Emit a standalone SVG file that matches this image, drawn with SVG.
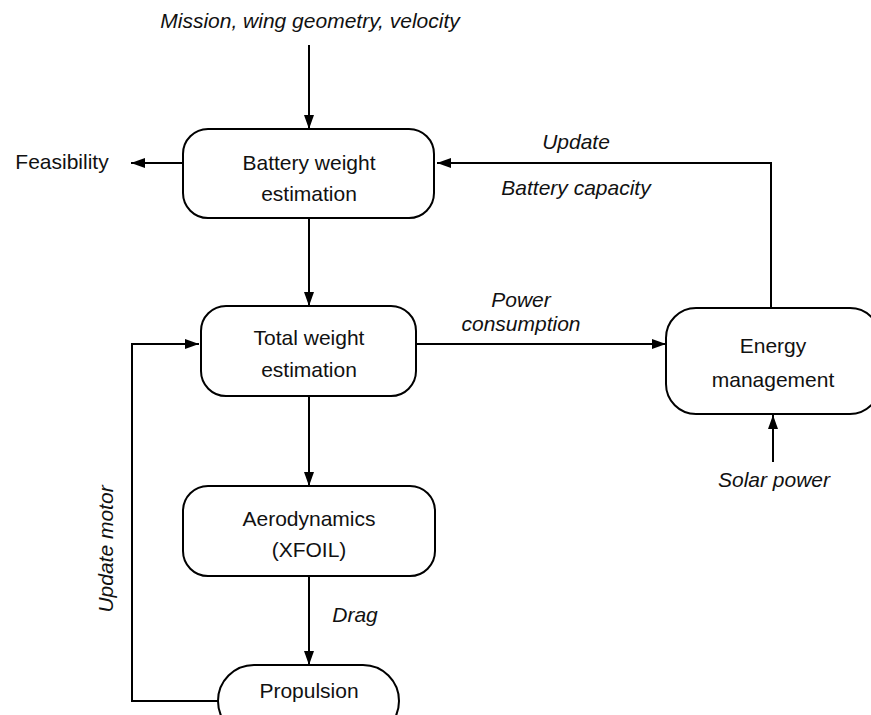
<svg xmlns="http://www.w3.org/2000/svg" width="871" height="715" viewBox="0 0 871 715">
<style>
.box{fill:#fff;stroke:#000;stroke-width:2}
.ln{fill:none;stroke:#000;stroke-width:2}
.t{font-family:"Liberation Sans",Arial,sans-serif;font-size:21px;fill:#111;text-anchor:middle}
.i{font-style:italic}
</style>
<defs>
<marker id="ah" viewBox="0 0 14 10" refX="14" refY="5" markerWidth="14" markerHeight="10" markerUnits="userSpaceOnUse" orient="auto">
<path d="M0,0 L14,5 L0,10 z" fill="#000"/>
</marker>
</defs>
<rect width="871" height="715" fill="#fff"/>
<g id="connectors">
<path class="ln" d="M309,45 L309,129" marker-end="url(#ah)"/>
<path class="ln" d="M183,163 L131,163" marker-end="url(#ah)"/>
<path class="ln" d="M771,308 L771,163 L437,163" marker-end="url(#ah)"/>
<path class="ln" d="M309,218 L309,306" marker-end="url(#ah)"/>
<path class="ln" d="M416,344 L666,344" marker-end="url(#ah)"/>
<path class="ln" d="M309,396 L309,486" marker-end="url(#ah)"/>
<path class="ln" d="M309,576 L309,665" marker-end="url(#ah)"/>
<path class="ln" d="M219,701 L132,701 L132,344 L199,344" marker-end="url(#ah)"/>
<path class="ln" d="M773,462 L773,415" marker-end="url(#ah)"/>
</g>
<g id="labels">
<text class="t i" x="310" y="28">Mission, wing geometry, velocity</text>
<text class="t" x="62" y="169">Feasibility</text>
<text class="t i" x="576" y="149">Update</text>
<text class="t i" x="576" y="195">Battery capacity</text>
<text class="t i" x="521" y="307">Power</text>
<text class="t i" x="521" y="331">consumption</text>
<text class="t i" x="774" y="487">Solar power</text>
<text class="t i" x="355" y="622">Drag</text>
<text class="t i" transform="translate(113,549) rotate(-90)" x="0" y="0">Update motor</text>
</g>
<g id="battery">
<rect class="box" x="183" y="129" width="251" height="89" rx="25"/>
<text class="t" x="309" y="170">Battery weight</text>
<text class="t" x="309" y="201">estimation</text>
</g>
<g id="total">
<rect class="box" x="201" y="306" width="215" height="90" rx="25"/>
<text class="t" x="309" y="345">Total weight</text>
<text class="t" x="309" y="377">estimation</text>
</g>
<g id="energy">
<rect class="box" x="666" y="308" width="214" height="106" rx="30"/>
<text class="t" x="773" y="353">Energy</text>
<text class="t" x="773" y="387">management</text>
</g>
<g id="aero">
<rect class="box" x="183" y="486" width="252" height="90" rx="25"/>
<text class="t" x="309" y="526">Aerodynamics</text>
<text class="t" x="309" y="557">(XFOIL)</text>
</g>
<g id="propulsion">
<rect class="box" x="218" y="665" width="181" height="72" rx="36"/>
<text class="t" x="309" y="698">Propulsion</text>
</g>
</svg>
